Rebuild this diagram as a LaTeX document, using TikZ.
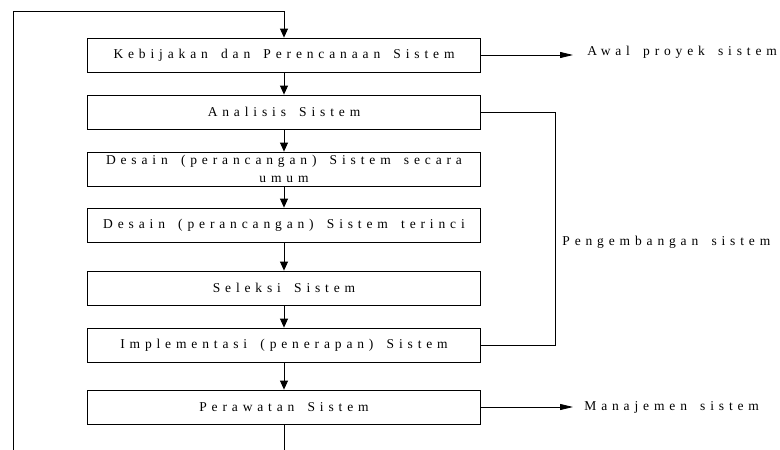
\documentclass[tikz,border=0pt]{standalone}
\usepackage{fontspec}
\setmainfont[LetterSpace=36,WordSpace=1.6]{Liberation Serif}
\usetikzlibrary{arrows.meta}
\begin{document}
\begin{tikzpicture}[x=1pt,y=-1pt,
  line width=0.8pt,
  stepbox/.style={draw, minimum width=393pt, minimum height=34pt, inner sep=0pt, font=\fontsize{13.5}{16}\selectfont},
  lbl/.style={anchor=west, inner sep=0pt, font=\fontsize{13.5}{16}\selectfont},
  flow/.style={-{Triangle[length=9pt,width=8pt]}},
  side/.style={-{Triangle[length=13pt,width=6pt]}}]
\useasboundingbox (0,0) rectangle (780,450);
\node[stepbox] (b1) at (284,55) {Kebijakan dan Perencanaan Sistem};
\node[stepbox] (b2) at (284,112) {Analisis Sistem};
\node[stepbox] (b3) at (284,169) {};
\node[align=center, inner sep=0pt, font=\fontsize{13.5}{18}\selectfont] (b3t) at (284,169) {Desain (perancangan) Sistem secara\\umum};
\node[stepbox] (b4) at (284,225) {Desain (perancangan) Sistem terinci};
\node[stepbox] (b5) at (284,288) {Seleksi Sistem};
\node[stepbox] (b6) at (284,345) {Implementasi (penerapan) Sistem};
\node[stepbox] (b7) at (284,407) {Perawatan Sistem};
\coordinate (bot) at (284,450);
\coordinate (loopb) at (13,450);
\coordinate (loopt) at (13,11);
\coordinate (bx) at (555,0);
\node[lbl] (awal) at (587,52) {Awal proyek sistem};
\node[lbl] (peng) at (562,242) {Pengembangan sistem};
\node[lbl] (man) at (584,407) {Manajemen sistem};
\draw[flow] (loopb) -- (loopt) -| (b1.north);
\draw[flow] (b1) -- (b2);
\draw[flow] (b2) -- (b3);
\draw[flow] (b3) -- (b4);
\draw[flow] (b4) -- (b5);
\draw[flow] (b5) -- (b6);
\draw[flow] (b6) -- (b7);
\draw (b7) -- (bot);
\draw[side] (b1.east) -- ([xshift=-14pt]awal.west |- b1.east);
\draw[side] (b7.east) -- ([xshift=-11pt]man.west |- b7.east);
\draw (b2.east) -| (bx |- b6.east) -- (b6.east);
\end{tikzpicture}
\end{document}
